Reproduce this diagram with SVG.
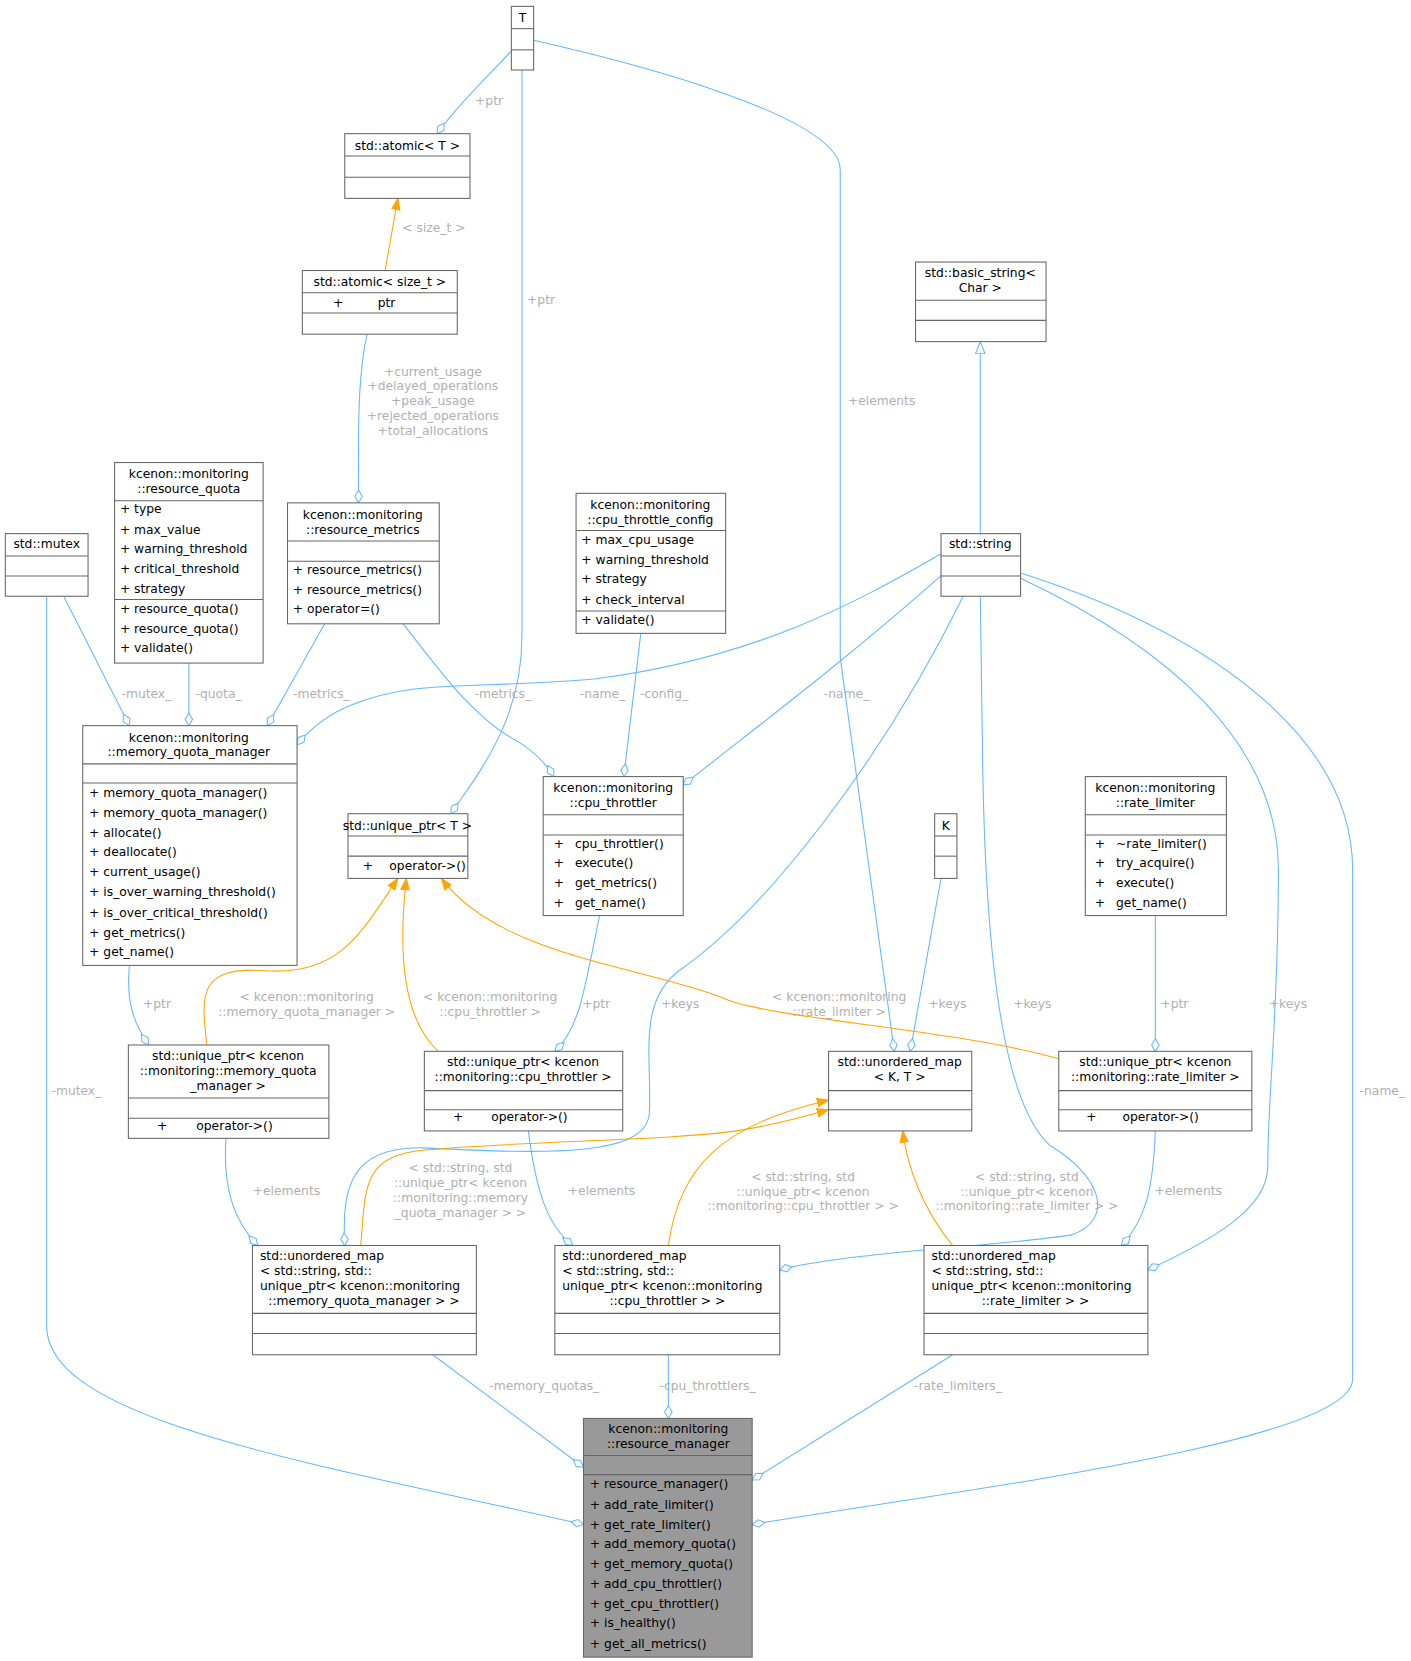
<svg xmlns="http://www.w3.org/2000/svg" width="1411" height="1661" viewBox="0 0 1411 1661">
<style>
.n rect{fill:#fff;stroke:#666;stroke-width:1}
.n line{stroke:#666;stroke-width:1}
text{font-family:"DejaVu Sans","Liberation Sans",sans-serif;font-size:11.6px;fill:#000}
.c{text-anchor:middle}
.l{fill:#b0b0b0;text-anchor:middle}
.e path{fill:none;stroke:#63b8ff;stroke-width:1}
.e path.ag{marker-end:url(#dia)}
.e path.o{stroke:#ffa500;marker-end:url(#arr)}
.e path.inh{marker-end:url(#tri)}
</style>
<defs>
<marker id="dia" markerUnits="userSpaceOnUse" markerWidth="14" markerHeight="10" refX="12.5" refY="5" orient="auto"><path d="M0.5,5 L6.5,1.5 L12.5,5 L6.5,8.5 Z" fill="#fff" stroke="#63b8ff"/></marker>
<marker id="arr" markerUnits="userSpaceOnUse" markerWidth="12" markerHeight="10" refX="11" refY="5" orient="auto"><path d="M0,1 L11,5 L0,9 Z" fill="#ffa500" stroke="#ffa500"/></marker>
<marker id="tri" markerUnits="userSpaceOnUse" markerWidth="13" markerHeight="12" refX="12" refY="6" orient="auto"><path d="M0.5,1.5 L12,6 L0.5,10.5 Z" fill="#fff" stroke="#63b8ff"/></marker>
</defs>
<rect width="1411" height="1661" fill="#fff"/>
<g transform="scale(1.0609)">
<g class="e" id="edges">
<path class="ag" d="M482,48 C460,72 430,100 412,126"/>
<path class="o" d="M363,255 L375,187"/>
<path class="ag" d="M492,66 L492,600 C492,680 450,730 425,767"/>
<path class="ag" d="M503,38 C600,60 792,110 792,160 L792,620 L843,991"/>
<path class="ag" d="M346,315 C336,360 338,420 338,474"/>
<path class="inh" d="M924,503 L924,322"/>
<path class="ag" d="M60,562 L122,684"/>
<path class="ag" d="M178,625 L178,684"/>
<path class="ag" d="M306,588 L252,684"/>
<path class="ag" d="M380,588 C420,640 450,680 490,700 C505,710 515,720 522,732"/>
<path class="ag" d="M887,522 C820,560 720,620 560,640 C440,650 390,640 330,665 C305,675 290,690 280,702"/>
<path class="ag" d="M604,597 L588,732"/>
<path class="ag" d="M890,540 C800,620 720,680 644,740"/>
<path class="ag" d="M908,562 C830,720 720,860 640,915 C600,945 615,1000 612,1050 C608,1090 520,1088 400,1082 C330,1080 322,1120 325,1174"/>
<path class="ag" d="M887,828 L858,991"/>
<path class="ag" d="M924,562 L926,700 C928,900 945,1040 990,1080 C1040,1110 1050,1150 1010,1164 C940,1175 800,1180 735,1197"/>
<path class="ag" d="M962,545 C1100,610 1205,700 1205,820 C1205,960 1195,1030 1195,1100 C1195,1140 1140,1170 1082,1197"/>
<path class="ag" d="M962,540 C1150,600 1275,700 1275,820 L1275,1300 C1275,1360 900,1405 709,1437"/>
<path class="ag" d="M44,562 L44,1250 C44,1340 300,1380 550,1437"/>
<path class="ag" d="M1089,863 L1089,991"/>
<path class="ag" d="M122,910 C118,950 130,970 140,985"/>
<path class="ag" d="M565,863 C550,940 545,970 523,991"/>
<path class="o" d="M195,985 C190,940 185,910 250,915 C320,920 340,880 375,828"/>
<path class="o" d="M413,991 C380,960 375,900 383,828"/>
<path class="o" d="M998,998 C900,970 720,960 680,940 C600,910 470,900 416,828"/>
<path class="ag" d="M213,1073 C210,1120 220,1150 243,1174"/>
<path class="ag" d="M498,1066 C505,1120 515,1155 540,1174"/>
<path class="ag" d="M1089,1066 C1087,1120 1080,1150 1057,1174"/>
<path class="o" d="M340,1174 C345,1120 340,1090 400,1084 C500,1075 640,1075 700,1065 C730,1060 760,1052 781,1046"/>
<path class="o" d="M630,1174 C640,1100 680,1060 781,1037"/>
<path class="o" d="M898,1174 C870,1140 855,1100 851,1066"/>
<path class="ag" d="M408,1277 L550,1383"/>
<path class="ag" d="M630,1277 L630,1337"/>
<path class="ag" d="M898,1277 L709,1395"/>
</g>
<g id="labels">
<text class="l" x="461" y="99">+ptr</text>
<text class="l" x="409" y="219">&lt; size_t &gt;</text>
<text class="l" x="510" y="287">+ptr</text>
<text class="l" x="831" y="382">+elements</text>
<text class="l" x="408" y="354">+current_usage</text>
<text class="l" x="408" y="368">+delayed_operations</text>
<text class="l" x="408" y="382">+peak_usage</text>
<text class="l" x="408" y="396">+rejected_operations</text>
<text class="l" x="408" y="410">+total_allocations</text>
<text class="l" x="138" y="658">-mutex_</text>
<text class="l" x="206" y="658">-quota_</text>
<text class="l" x="303" y="658">-metrics_</text>
<text class="l" x="474" y="658">-metrics_</text>
<text class="l" x="568" y="658">-name_</text>
<text class="l" x="626" y="658">-config_</text>
<text class="l" x="798" y="658">-name_</text>
<text class="l" x="148" y="950">+ptr</text>
<text class="l" x="289" y="944">&lt; kcenon::monitoring</text>
<text class="l" x="289" y="958">::memory_quota_manager &gt;</text>
<text class="l" x="462" y="944">&lt; kcenon::monitoring</text>
<text class="l" x="462" y="958">::cpu_throttler &gt;</text>
<text class="l" x="562" y="950">+ptr</text>
<text class="l" x="641" y="950">+keys</text>
<text class="l" x="791" y="944">&lt; kcenon::monitoring</text>
<text class="l" x="791" y="958">::rate_limiter &gt;</text>
<text class="l" x="893" y="950">+keys</text>
<text class="l" x="973" y="950">+keys</text>
<text class="l" x="1107" y="950">+ptr</text>
<text class="l" x="1214" y="950">+keys</text>
<text class="l" x="72" y="1032">-mutex_</text>
<text class="l" x="1303" y="1032">-name_</text>
<text class="l" x="270" y="1126">+elements</text>
<text class="l" x="567" y="1126">+elements</text>
<text class="l" x="1120" y="1126">+elements</text>
<text class="l" x="434" y="1105">&lt; std::string, std</text>
<text class="l" x="434" y="1119">::unique_ptr&lt; kcenon</text>
<text class="l" x="434" y="1133">::monitoring::memory</text>
<text class="l" x="434" y="1147">_quota_manager &gt; &gt;</text>
<text class="l" x="757" y="1113">&lt; std::string, std</text>
<text class="l" x="757" y="1127">::unique_ptr&lt; kcenon</text>
<text class="l" x="757" y="1141">::monitoring::cpu_throttler &gt; &gt;</text>
<text class="l" x="968" y="1113">&lt; std::string, std</text>
<text class="l" x="968" y="1127">::unique_ptr&lt; kcenon</text>
<text class="l" x="968" y="1141">::monitoring::rate_limiter &gt; &gt;</text>
<text class="l" x="513" y="1310">-memory_quotas_</text>
<text class="l" x="667" y="1310">-cpu_throttlers_</text>
<text class="l" x="903" y="1310">-rate_limiters_</text>
</g>
<g class="n" id="n_T"><rect x="482" y="6" width="21" height="60"/><line x1="482" y1="27" x2="503" y2="27"/><line x1="482" y1="47" x2="503" y2="47"/><text class="c" x="492.5" y="21">T</text></g>
<g class="n" id="n_atomicT"><rect x="325" y="126" width="118" height="61"/><line x1="325" y1="147" x2="443" y2="147"/><line x1="325" y1="167" x2="443" y2="167"/><text class="c" x="384" y="141">std::atomic&lt; T &gt;</text></g>
<g class="n" id="n_atomicS"><rect x="285" y="255" width="146" height="60"/><line x1="285" y1="276" x2="431" y2="276"/><line x1="285" y1="295" x2="431" y2="295"/><text class="c" x="358" y="270">std::atomic&lt; size_t &gt;</text><text x="314" y="289">+</text><text x="356" y="289">ptr</text></g>
<g class="n" id="n_basic"><rect x="863" y="247" width="123" height="75"/><line x1="863" y1="283" x2="986" y2="283"/><line x1="863" y1="302" x2="986" y2="302"/><text class="c" x="924" y="261">std::basic_string&lt;</text><text class="c" x="924" y="275">Char &gt;</text></g>
<g class="n" id="n_quota"><rect x="108" y="436" width="140" height="189"/><line x1="108" y1="472" x2="248" y2="472"/><line x1="108" y1="565" x2="248" y2="565"/><text class="c" x="178" y="451">kcenon::monitoring</text><text class="c" x="178" y="465">::resource_quota</text>
<text x="113" y="484">+ type</text><text x="113" y="503">+ max_value</text><text x="113" y="521">+ warning_threshold</text><text x="113" y="540">+ critical_threshold</text><text x="113" y="559">+ strategy</text><text x="113" y="578">+ resource_quota()</text><text x="113" y="597">+ resource_quota()</text><text x="113" y="615">+ validate()</text></g>
<g class="n" id="n_mutex"><rect x="5" y="503" width="78" height="59"/><line x1="5" y1="524" x2="83" y2="524"/><line x1="5" y1="543" x2="83" y2="543"/><text class="c" x="44" y="517">std::mutex</text></g>
<g class="n" id="n_metrics"><rect x="271" y="474" width="143" height="114"/><line x1="271" y1="510" x2="414" y2="510"/><line x1="271" y1="529" x2="414" y2="529"/><text class="c" x="342" y="489">kcenon::monitoring</text><text class="c" x="342" y="503">::resource_metrics</text>
<text x="276" y="541">+ resource_metrics()</text><text x="276" y="560">+ resource_metrics()</text><text x="276" y="578">+ operator=()</text></g>
<g class="n" id="n_cfg"><rect x="543" y="465" width="141" height="132"/><line x1="543" y1="500" x2="684" y2="500"/><line x1="543" y1="576" x2="684" y2="576"/><text class="c" x="613" y="480">kcenon::monitoring</text><text class="c" x="613" y="494">::cpu_throttle_config</text>
<text x="548" y="513">+ max_cpu_usage</text><text x="548" y="532">+ warning_threshold</text><text x="548" y="550">+ strategy</text><text x="548" y="569">+ check_interval</text><text x="548" y="588">+ validate()</text></g>
<g class="n" id="n_string"><rect x="887" y="503" width="75" height="59"/><line x1="887" y1="524" x2="962" y2="524"/><line x1="887" y1="543" x2="962" y2="543"/><text class="c" x="924" y="517">std::string</text></g>
<g class="n" id="n_mqm"><rect x="78" y="684" width="202" height="226"/><line x1="78" y1="720" x2="280" y2="720"/><line x1="78" y1="738" x2="280" y2="738"/><text class="c" x="178" y="699">kcenon::monitoring</text><text class="c" x="178" y="713">::memory_quota_manager</text>
<text x="84" y="751">+ memory_quota_manager()</text><text x="84" y="770">+ memory_quota_manager()</text><text x="84" y="789">+ allocate()</text><text x="84" y="807">+ deallocate()</text><text x="84" y="826">+ current_usage()</text><text x="84" y="845">+ is_over_warning_threshold()</text><text x="84" y="864">+ is_over_critical_threshold()</text><text x="84" y="883">+ get_metrics()</text><text x="84" y="901">+ get_name()</text></g>
<g class="n" id="n_uptrT"><rect x="328" y="767" width="113" height="61"/><line x1="328" y1="788" x2="441" y2="788"/><line x1="328" y1="807" x2="441" y2="807"/><text class="c" x="384" y="782">std::unique_ptr&lt; T &gt;</text><text x="342" y="820">+</text><text x="367" y="820">operator-&gt;()</text></g>
<g class="n" id="n_cpu"><rect x="512" y="732" width="132" height="131"/><line x1="512" y1="768" x2="644" y2="768"/><line x1="512" y1="787" x2="644" y2="787"/><text class="c" x="578" y="747">kcenon::monitoring</text><text class="c" x="578" y="761">::cpu_throttler</text>
<text x="522" y="799">+</text><text x="542" y="799">cpu_throttler()</text><text x="522" y="817">+</text><text x="542" y="817">execute()</text><text x="522" y="836">+</text><text x="542" y="836">get_metrics()</text><text x="522" y="855">+</text><text x="542" y="855">get_name()</text></g>
<g class="n" id="n_K"><rect x="881" y="767" width="21" height="61"/><line x1="881" y1="788" x2="902" y2="788"/><line x1="881" y1="807" x2="902" y2="807"/><text class="c" x="891.5" y="782">K</text></g>
<g class="n" id="n_rate"><rect x="1023" y="732" width="133" height="131"/><line x1="1023" y1="768" x2="1156" y2="768"/><line x1="1023" y1="787" x2="1156" y2="787"/><text class="c" x="1089" y="747">kcenon::monitoring</text><text class="c" x="1089" y="761">::rate_limiter</text>
<text x="1032" y="799">+</text><text x="1052" y="799">~rate_limiter()</text><text x="1032" y="817">+</text><text x="1052" y="817">try_acquire()</text><text x="1032" y="836">+</text><text x="1052" y="836">execute()</text><text x="1032" y="855">+</text><text x="1052" y="855">get_name()</text></g>
<g class="n" id="n_upmqm"><rect x="121" y="985" width="189" height="88"/><line x1="121" y1="1035" x2="310" y2="1035"/><line x1="121" y1="1054" x2="310" y2="1054"/><text class="c" x="215" y="999">std::unique_ptr&lt; kcenon</text><text class="c" x="215" y="1013">::monitoring::memory_quota</text><text class="c" x="215" y="1027">_manager &gt;</text><text x="148" y="1065">+</text><text x="185" y="1065">operator-&gt;()</text></g>
<g class="n" id="n_upcpu"><rect x="400" y="991" width="187" height="75"/><line x1="400" y1="1028" x2="587" y2="1028"/><line x1="400" y1="1046" x2="587" y2="1046"/><text class="c" x="493" y="1005">std::unique_ptr&lt; kcenon</text><text class="c" x="493" y="1019">::monitoring::cpu_throttler &gt;</text><text x="427" y="1057">+</text><text x="463" y="1057">operator-&gt;()</text></g>
<g class="n" id="n_umapKT"><rect x="781" y="991" width="135" height="75"/><line x1="781" y1="1028" x2="916" y2="1028"/><line x1="781" y1="1046" x2="916" y2="1046"/><text class="c" x="848" y="1005">std::unordered_map</text><text class="c" x="848" y="1019">&lt; K, T &gt;</text></g>
<g class="n" id="n_uprate"><rect x="998" y="991" width="182" height="75"/><line x1="998" y1="1028" x2="1180" y2="1028"/><line x1="998" y1="1046" x2="1180" y2="1046"/><text class="c" x="1089" y="1005">std::unique_ptr&lt; kcenon</text><text class="c" x="1089" y="1019">::monitoring::rate_limiter &gt;</text><text x="1024" y="1057">+</text><text x="1058" y="1057">operator-&gt;()</text></g>
<g class="n" id="n_umapmem"><rect x="238" y="1174" width="211" height="103"/><line x1="238" y1="1238" x2="449" y2="1238"/><line x1="238" y1="1257" x2="449" y2="1257"/><text x="245" y="1188">std::unordered_map</text><text x="245" y="1202">&lt; std::string, std::</text><text x="245" y="1216">unique_ptr&lt; kcenon::monitoring</text><text class="c" x="343" y="1230">::memory_quota_manager &gt; &gt;</text></g>
<g class="n" id="n_umapcpu"><rect x="523" y="1174" width="212" height="103"/><line x1="523" y1="1238" x2="735" y2="1238"/><line x1="523" y1="1257" x2="735" y2="1257"/><text x="530" y="1188">std::unordered_map</text><text x="530" y="1202">&lt; std::string, std::</text><text x="530" y="1216">unique_ptr&lt; kcenon::monitoring</text><text class="c" x="629" y="1230">::cpu_throttler &gt; &gt;</text></g>
<g class="n" id="n_umaprate"><rect x="871" y="1174" width="211" height="103"/><line x1="871" y1="1238" x2="1082" y2="1238"/><line x1="871" y1="1257" x2="1082" y2="1257"/><text x="878" y="1188">std::unordered_map</text><text x="878" y="1202">&lt; std::string, std::</text><text x="878" y="1216">unique_ptr&lt; kcenon::monitoring</text><text class="c" x="976" y="1230">::rate_limiter &gt; &gt;</text></g>
<g class="n" id="n_rm"><rect x="550" y="1337" width="159" height="225" style="fill:#999"/><line x1="550" y1="1372" x2="709" y2="1372"/><line x1="550" y1="1390" x2="709" y2="1390"/><text class="c" x="630" y="1351">kcenon::monitoring</text><text class="c" x="630" y="1365">::resource_manager</text>
<text x="556" y="1403">+ resource_manager()</text><text x="556" y="1422">+ add_rate_limiter()</text><text x="556" y="1441">+ get_rate_limiter()</text><text x="556" y="1459">+ add_memory_quota()</text><text x="556" y="1478">+ get_memory_quota()</text><text x="556" y="1497">+ add_cpu_throttler()</text><text x="556" y="1516">+ get_cpu_throttler()</text><text x="556" y="1534">+ is_healthy()</text><text x="556" y="1553">+ get_all_metrics()</text></g>
</g>
</svg>
